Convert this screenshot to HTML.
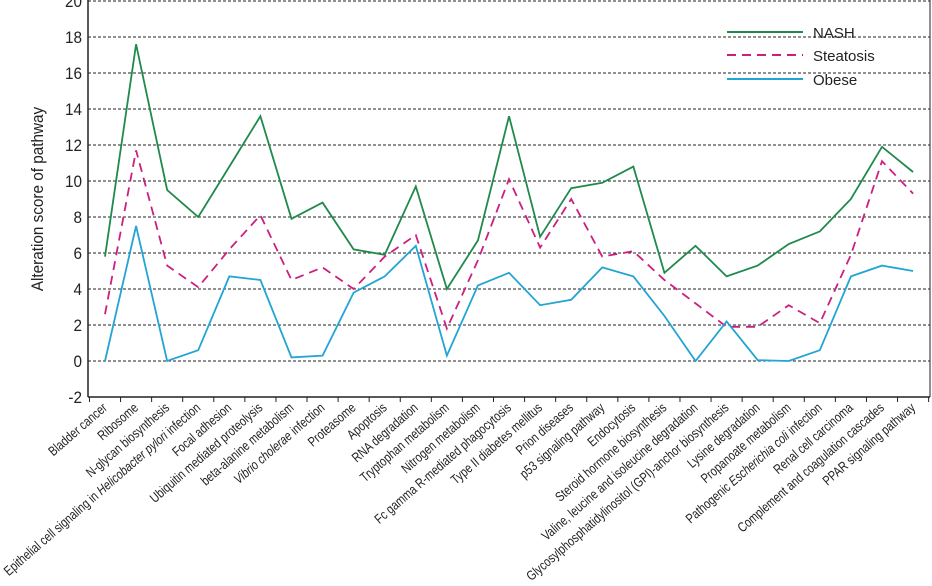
<!DOCTYPE html>
<html><head><meta charset="utf-8"><style>
html,body{margin:0;padding:0;background:#fff;}
svg{display:block;font-family:"Liberation Sans",Arial,sans-serif;}
</style></head><body>
<svg id="chart" width="932" height="586" viewBox="0 0 932 586">
<g id="grid"></g>
<g id="axes"></g>
<g id="series"></g>
<g id="labels"></g>
<text transform="translate(43,199) rotate(-90) scale(0.9,1)" text-anchor="middle" font-size="17" fill="#222">Alteration score of pathway</text>
<g>
 <g><line x1="727" y1="32" x2="803" y2="32" stroke="#1f8a4c" stroke-width="2"/><text x="813" y="38" font-size="15" fill="#222">NASH</text></g>
 <g><line x1="727" y1="55" x2="803" y2="55" stroke="#cc1f80" stroke-width="2" stroke-dasharray="9,6"/><text x="813" y="61" font-size="15" fill="#222">Steatosis</text></g>
 <g><line x1="727" y1="79" x2="803" y2="79" stroke="#22a4d4" stroke-width="2"/><text x="813" y="85" font-size="15" fill="#222">Obese</text></g>
</g>
</svg>
<script>
const categories = ["Bladder cancer","Ribosome","N-glycan biosynthesis","Epithelial cell signaling in <i>Helicobacter pylori</i> infection","Focal adhesion","Ubiquitin mediated proteolysis","beta-alanine metabolism","<i>Vibrio cholerae</i> infection","Proteasome","Apoptosis","RNA degradation","Tryptophan metabolism","Nitrogen metabolism","Fc gamma R-mediated phagocytosis","Type II diabetes mellitus","Prion diseases","p53 signaling pathway","Endocytosis","Steroid hormone biosynthesis","Valine, leucine and isoleucine degradation","Glycosylphosphatidylinositol (GPI)-anchor biosynthesis","Lysine degradation","Propanoate metabolism","Pathogenic <i>Escherichia coli</i> infection","Renal cell carcinoma","Complement and coagulation cascades","PPAR signaling pathway"];
const nash = [5.8,17.6,9.5,8.0,10.8,13.6,7.9,8.8,6.2,5.9,9.7,4.0,6.7,13.6,6.9,9.6,9.9,10.8,4.9,6.4,4.7,5.3,6.5,7.2,9.0,11.9,10.5];
const steatosis = [2.6,11.7,5.3,4.1,6.2,8.1,4.5,5.2,4.0,5.8,7.0,1.8,5.6,10.1,6.3,9.0,5.8,6.1,4.5,3.2,1.9,1.9,3.1,2.1,5.9,11.1,9.3];
const obese = [0,7.5,0,0.6,4.7,4.5,0.2,0.3,3.8,4.7,6.4,0.3,4.2,4.9,3.1,3.4,5.2,4.7,2.5,0,2.2,0.05,0,0.6,4.7,5.3,5.0];
const yTicks = [-2,0,2,4,6,8,10,12,14,16,18,20];

const NS="http://www.w3.org/2000/svg";
const X0=105, DX=31.08, L=88, R=930, B=397;
const x=i=>X0+i*DX;
const y=v=>361-18*v;
function mk(t,a,p){const e=document.createElementNS(NS,t);for(const k in a)e.setAttribute(k,a[k]);p.appendChild(e);return e;}
const grid=document.getElementById('grid'),axes=document.getElementById('axes'),ser=document.getElementById('series'),lab=document.getElementById('labels');
yTicks.forEach(v=>{
  if(v>-2){const g=mk('line',{x1:L,x2:R,y1:y(v),y2:y(v),stroke:'#222','stroke-width':1,'stroke-dasharray':'3,2'},grid);
  
  }
  const t=mk('text',{transform:`translate(${L-6},${y(v)+6}) scale(0.9,1)`,'text-anchor':'end','font-size':17,fill:'#222'},axes);
  t.textContent=v;
  
  
});
mk('line',{x1:L,x2:L,y1:0,y2:B,stroke:'#222','stroke-width':1.5},axes);
mk('line',{x1:L,x2:R,y1:B,y2:B,stroke:'#222','stroke-width':1.5},axes);
mk('line',{x1:R,x2:R,y1:0,y2:B,stroke:'#222','stroke-width':1},axes);
for(let i=0;i<=categories.length;i++){const tx=x(i)-DX/2;if(tx<L)continue;mk('line',{x1:tx,x2:tx,y1:B,y2:B+5,stroke:'#222'},axes);}
function series(vals,color,dash,name){
  const p=mk('polyline',{points:vals.map((v,i)=>x(i)+','+y(v)).join(' '),fill:'none',stroke:color,'stroke-width':1.8},ser);
  if(dash)p.setAttribute('stroke-dasharray',dash);
  
  
}
series(nash,'#1f8a4c',null,'nash-line');
series(steatosis,'#cc1f80','9,6','steatosis-line');
series(obese,'#22a4d4',null,'obese-line');
categories.forEach((c,i)=>{
  const t=mk('text',{transform:`translate(${x(i)+3},${B+12}) rotate(-41) scale(0.8,1)`,'text-anchor':'end','font-size':13.5,fill:'#222'},lab);
  t.innerHTML=c.replace(/<i>/g,'<tspan font-style="italic">').replace(/<\/i>/g,'</tspan>');
  
  
});
</script>
</body></html>
